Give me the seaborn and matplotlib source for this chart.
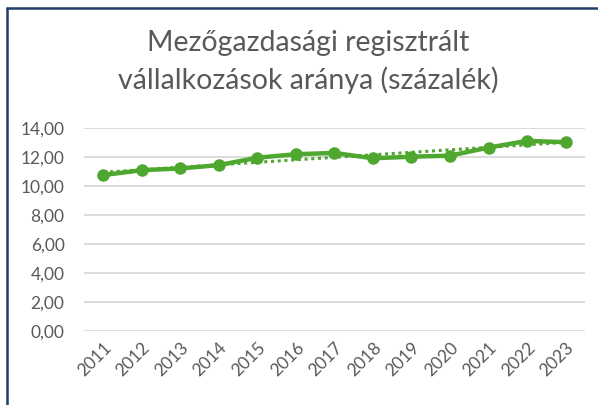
import matplotlib
matplotlib.use("Agg")
import matplotlib.pyplot as plt
import seaborn as sns
import numpy as np
import pandas as pd
from matplotlib.lines import Line2D

years = ["2011", "2012", "2013", "2014", "2015", "2016", "2017",
         "2018", "2019", "2020", "2021", "2022", "2023"]
values = [10.75, 11.09, 11.21, 11.44, 11.95, 12.19, 12.28,
          11.91, 12.02, 12.09, 12.65, 13.11, 13.02]
yticks = [0, 2, 4, 6, 8, 10, 12, 14]
title = "Mezőgazdasági regisztrált\nvállalkozások aránya (százalék)"

sns.set_theme(style="white")
plt.rcParams['font.family'] = ['Lato', 'DejaVu Sans']

green = "#4EA72E"
gray = "#595959"

df = pd.DataFrame({"pos": np.arange(len(years)), "value": values})

fig = plt.figure(figsize=(5.98, 4.05), dpi=100)
ax = fig.add_axes([0.1405, 0.1827, 0.978 - 0.1405, 0.684 - 0.1827])

for y in yticks:
    ax.axhline(y, color="#D9D9D9", lw=1.3, zorder=0)

sns.regplot(data=df, x="pos", y="value", ax=ax, ci=None, scatter=False,
            truncate=True, color=green,
            line_kws=dict(lw=2.2, ls=(0, (1, 1.2)), zorder=2))
sns.lineplot(data=df, x="pos", y="value", ax=ax, color=green, lw=3.2,
             marker="o", markersize=9, markeredgewidth=0, zorder=3)

ax.set_xlim(-0.5, len(years) - 0.5)
ax.set_ylim(0, 14)
ax.set_xticks(np.arange(len(years)))
ax.set_xticklabels(years, rotation=45, ha="right", rotation_mode="anchor",
                   color=gray, fontsize=12.5)
ax.set_yticks(yticks)
ax.set_yticklabels([f"{v:.2f}".replace(".", ",") for v in yticks],
                   color=gray, fontsize=12.5)
ax.tick_params(axis="both", length=0)
ax.tick_params(axis="y", pad=14)
ax.tick_params(axis="x", pad=6)
ax.set_xlabel("")
ax.set_ylabel("")
for s in ax.spines.values():
    s.set_visible(False)

fig.text(0.515, 0.925, title, ha="center", va="top", fontsize=20.5,
         color=gray, linespacing=1.45)

# frame lines (top and left)
fig.add_artist(Line2D([0.012, 1.0], [1 - 7.5 / 405, 1 - 7.5 / 405],
                      transform=fig.transFigure, color="#1F3D66", lw=1.8))
fig.add_artist(Line2D([0.012, 0.012], [0, 1 - 7.5 / 405],
                      transform=fig.transFigure, color="#1F3D66", lw=1.8))

fig.savefig("out.png", dpi=100)
